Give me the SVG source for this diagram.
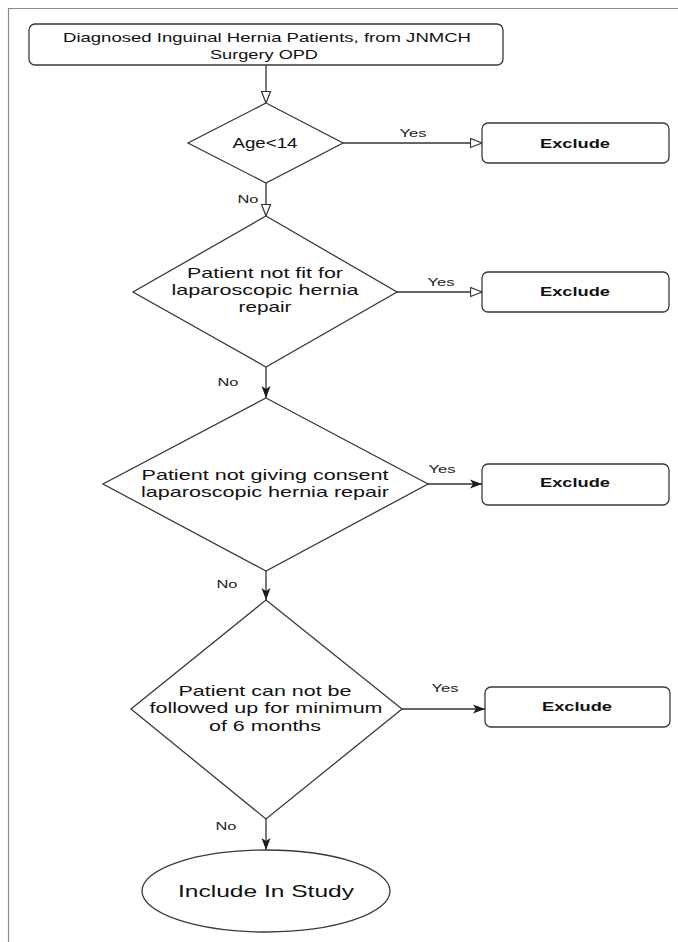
<svg xmlns="http://www.w3.org/2000/svg" width="678" height="942" viewBox="0 0 678 942">
<defs>
<marker id="hollow" markerUnits="userSpaceOnUse" markerWidth="14" markerHeight="12" refX="12.5" refY="5.5" orient="auto">
<path d="M1,1 L12.5,5.5 L1,10 Z" fill="#fff" stroke="#333" stroke-width="1.2"/>
</marker>
<marker id="filled" markerUnits="userSpaceOnUse" markerWidth="13" markerHeight="11" refX="12" refY="5" orient="auto">
<path d="M0,0.5 L12,5 L0,9.5 L3,5 Z" fill="#1a1a1a"/>
</marker>
</defs>
<style>
.box{fill:#fff;stroke:#3a3a3a;stroke-width:1.3}
.shape{fill:#fff;stroke:#3a3a3a;stroke-width:1.3}
.edge{fill:none;stroke:#333;stroke-width:1.3}
.t{font-family:"Liberation Sans",Arial,sans-serif;fill:#111;text-anchor:middle}
.dt{font-size:15px}
.ex{font-size:13px;font-weight:bold}
.lbl{font-size:11px;fill:#222}
</style>
<rect width="678" height="942" fill="#fff"/>
<g id="frame">
<path d="M8.5,942 L8.5,8.5 L678,8.5" fill="none" stroke="#8a8a8a" stroke-width="1.2"/>
</g>
<g id="connectors">
<line class="edge" x1="266" y1="65" x2="266" y2="103" marker-end="url(#hollow)"/>
<line class="edge" x1="343" y1="143" x2="482" y2="143" marker-end="url(#hollow)"/>
<line class="edge" x1="266" y1="183" x2="266" y2="216" marker-end="url(#hollow)"/>
<line class="edge" x1="397" y1="292" x2="482" y2="292" marker-end="url(#hollow)"/>
<line class="edge" x1="266" y1="367" x2="266" y2="398" marker-end="url(#filled)"/>
<line class="edge" x1="428" y1="484" x2="482" y2="484" marker-end="url(#filled)"/>
<line class="edge" x1="266" y1="571" x2="266" y2="600" marker-end="url(#filled)"/>
<line class="edge" x1="402" y1="709" x2="485" y2="709" marker-end="url(#filled)"/>
<line class="edge" x1="266" y1="819" x2="266" y2="850" marker-end="url(#filled)"/>
<text class="t lbl" x="413" y="137" textLength="27" lengthAdjust="spacingAndGlyphs">Yes</text>
<text class="t lbl" x="248" y="203" textLength="21" lengthAdjust="spacingAndGlyphs">No</text>
<text class="t lbl" x="441" y="286" textLength="27" lengthAdjust="spacingAndGlyphs">Yes</text>
<text class="t lbl" x="228" y="386" textLength="21" lengthAdjust="spacingAndGlyphs">No</text>
<text class="t lbl" x="442" y="473" textLength="27" lengthAdjust="spacingAndGlyphs">Yes</text>
<text class="t lbl" x="227" y="588" textLength="21" lengthAdjust="spacingAndGlyphs">No</text>
<text class="t lbl" x="445" y="692" textLength="27" lengthAdjust="spacingAndGlyphs">Yes</text>
<text class="t lbl" x="226" y="830" textLength="21" lengthAdjust="spacingAndGlyphs">No</text>
</g>
<g id="start">
<rect class="box" x="29" y="24" width="474" height="41" rx="6"/>
<text class="t" font-size="13" x="267" y="42" textLength="408" lengthAdjust="spacingAndGlyphs">Diagnosed Inguinal Hernia Patients, from JNMCH</text>
<text class="t" font-size="13" x="264" y="59" textLength="108" lengthAdjust="spacingAndGlyphs">Surgery OPD</text>
</g>
<g id="age">
<polygon class="shape" points="266,103 343,143 266,183 188,143"/>
<text class="t" font-size="14" x="265" y="148" textLength="65" lengthAdjust="spacingAndGlyphs">Age&lt;14</text>
</g>
<g id="exclude1">
<rect class="box" x="482" y="123" width="187" height="40" rx="6"/>
<text class="t ex" x="575" y="148" textLength="70" lengthAdjust="spacingAndGlyphs">Exclude</text>
</g>
<g id="fit">
<polygon class="shape" points="266,216 397,292 266,367 133,292"/>
<text class="t dt" x="265" y="278" textLength="156" lengthAdjust="spacingAndGlyphs">Patient not fit for</text>
<text class="t dt" x="265" y="295" textLength="187" lengthAdjust="spacingAndGlyphs">laparoscopic hernia</text>
<text class="t dt" x="265" y="312" textLength="53" lengthAdjust="spacingAndGlyphs">repair</text>
</g>
<g id="exclude2">
<rect class="box" x="482" y="272" width="187" height="40" rx="6"/>
<text class="t ex" x="575" y="296" textLength="70" lengthAdjust="spacingAndGlyphs">Exclude</text>
</g>
<g id="consent">
<polygon class="shape" points="266,398 428,484 266,571 103,484"/>
<text class="t dt" x="265" y="480" textLength="247" lengthAdjust="spacingAndGlyphs">Patient not giving consent</text>
<text class="t dt" x="265" y="497" textLength="248" lengthAdjust="spacingAndGlyphs">laparoscopic hernia repair</text>
</g>
<g id="exclude3">
<rect class="box" x="482" y="464" width="187" height="41" rx="6"/>
<text class="t ex" x="575" y="487" textLength="70" lengthAdjust="spacingAndGlyphs">Exclude</text>
</g>
<g id="followup">
<polygon class="shape" points="266,600 402,709 266,819 131,709"/>
<text class="t dt" x="265" y="696" textLength="173" lengthAdjust="spacingAndGlyphs">Patient can not be</text>
<text class="t dt" x="266" y="713" textLength="233" lengthAdjust="spacingAndGlyphs">followed up for minimum</text>
<text class="t dt" x="265" y="731" textLength="112" lengthAdjust="spacingAndGlyphs">of 6 months</text>
</g>
<g id="exclude4">
<rect class="box" x="485" y="687" width="185" height="40" rx="6"/>
<text class="t ex" x="577" y="711" textLength="70" lengthAdjust="spacingAndGlyphs">Exclude</text>
</g>
<g id="include">
<ellipse class="shape" cx="266" cy="891" rx="124" ry="41"/>
<text class="t" font-size="17" x="266" y="897" textLength="176" lengthAdjust="spacingAndGlyphs">Include In Study</text>
</g>
</svg>
